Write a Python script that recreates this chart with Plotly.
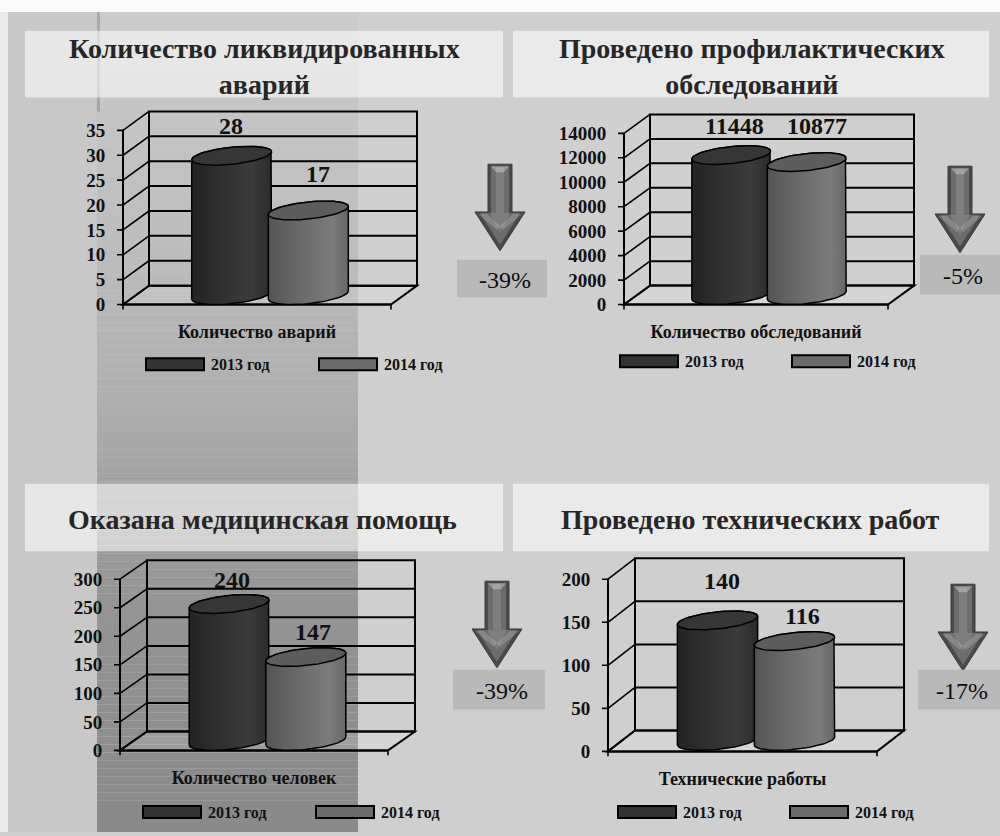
import numpy as np
import plotly.graph_objects as go

W, H = 1000, 836
FONT = "Liberation Serif, Times New Roman, serif"

# ---------------- data ----------------
TITLES = [
    "Количество ликвидированных<br>аварий",
    "Проведено профилактических<br>обследований",
    "Оказана медицинская помощь",
    "Проведено технических работ",
]
CATEGORIES = ["Количество аварий", "Количество обследований",
              "Количество человек", "Технические работы"]
SERIES = ["2013 год", "2014 год"]
VALUES_2013 = [28, 11448, 240, 140]
VALUES_2014 = [17, 10877, 147, 116]
Y_MAX = [35, 14000, 300, 200]
Y_STEP = [5, 2000, 50, 50]

# ---------------- panel geometry (pixels) ----------------
# ax / fr : front-left and front-right corners of the floor
# y0 / ytop : zero and top tick on the front value axis
# dx / dy : depth of the 3-D box
PANELS = [
    dict(ax=123, fr=391, y0=306, ytop=131, dx=26, dy=19),
    dict(ax=624, fr=888, y0=306, ytop=134, dx=26, dy=19),
    dict(ax=120, fr=388, y0=754, ytop=582, dx=27, dy=19),
    dict(ax=608, fr=877, y0=755, ytop=582, dx=27, dy=21),
]
TITLE_POS = [(264, 67), (752, 67), (262, 522), (750, 522)]
TITLE_BOXES = [(25, 31, 503, 98), (513, 31, 989, 98),
               (25, 486, 503, 554), (513, 486, 989, 554)]
ARROWS = [(500, 165), (960, 167), (497, 584), (963, 587)]
PCT_BOXES = [(457, 261, 547, 299), (920, 256, 1000, 296),
             (453, 673, 545, 713), (918, 673, 1000, 713)]
LEGENDS = [(146, 319, 366), (620, 792, 363), (143, 316, 816), (618, 790, 816)]
LABEL_LIFT = [(30, 36), (29, 36), (24, 25), (39, 25)]
LABEL_NUDGE = [(-1, 10), (3, 10), (3, 7), (4, 8)]

BAR_OFFSET = 0.143      # half distance between the two cylinders (front-width units)
BAR_WIDTH = 0.30
ELL_B = 8.5             # ellipse half-height, px
ELL_TILT = np.radians(6)

BODY_SCALES = [
    [[0, "#232323"], [0.35, "#2f2f2f"], [0.75, "#3b3b3b"], [1, "#2a2a2a"]],
    [[0, "#545454"], [0.4, "#6a6a6a"], [0.8, "#7b7b7b"], [1, "#676767"]],
]
TOP_COLORS = ["#363636", "#5d5d5d"]
LEGEND_COLORS = ["#333333", "#6b6b6b"]

PAD_L, PAD_R, PAD_T, PAD_B = 7, 3, 3, 7

shapes = []
annotations = []


def px(x):
    return x / W


def py(y):
    return 1 - y / H


def prect(x0, y0, x1, y1, fill, line="rgba(0,0,0,0)", lw=0):
    shapes.append(dict(type="rect", xref="paper", yref="paper",
                       x0=px(x0), x1=px(x1), y0=py(y1), y1=py(y0),
                       fillcolor=fill, line=dict(color=line, width=lw),
                       layer="below"))


def ppath(pts, fill, line="rgba(0,0,0,0)", lw=0):
    d = "M" + " L".join(f"{px(x):.5f},{py(y):.5f}" for x, y in pts) + " Z"
    shapes.append(dict(type="path", xref="paper", yref="paper", path=d,
                       fillcolor=fill, line=dict(color=line, width=lw),
                       layer="below"))


# ---------------- slide background ----------------
prect(0, 0, W, 12, "#fbfbfb")
prect(0, 12, 8, H, "#ebebeb")
prect(8, 12, 97, H, "#c8c8c8")
band_y = [12, 100, 250, 400, 480, 600, 836]
band_g = [204, 197, 189, 175, 163, 149, 137]
for y in range(12, H, 8):
    g = int(round(np.interp(y + 4, band_y, band_g)))
    prect(97, y, 358, min(y + 8, H), f"rgb({g},{g},{g})")
prect(97, 12, 100, 112, "rgba(0,0,0,0.16)")

for (x0, y0, x1, y1) in TITLE_BOXES:
    prect(x0, y0, x1, y1, "rgba(255,255,255,0.56)")


# ---------------- arrows and percentage boxes ----------------
def arrow_pts(cx, top, sw, hw, sl, hl):
    return [(cx - sw / 2, top), (cx + sw / 2, top), (cx + sw / 2, top + sl),
            (cx + hw / 2, top + sl), (cx, top + sl + hl),
            (cx - hw / 2, top + sl), (cx - sw / 2, top + sl)]


for (cx, top) in ARROWS:
    ppath(arrow_pts(cx, top, 24, 50, 48, 39), "#4a4a4a", "#3a3a3a", 1)
    ppath(arrow_pts(cx, top + 2, 18, 40, 47, 32), "#6c6c6c")
    ppath(arrow_pts(cx, top + 3, 8, 20, 46, 20), "#7e7e7e")
    ppath([(cx - 9, top + 2), (cx + 9, top + 2), (cx + 4, top + 8), (cx - 4, top + 8)],
          "rgba(255,255,255,0.30)")
    ppath([(cx - 22, top + 50), (cx - 13, top + 50), (cx, top + 62), (cx - 3, top + 66)],
          "rgba(255,255,255,0.18)")
    ppath([(cx + 22, top + 50), (cx + 13, top + 50), (cx, top + 62), (cx + 3, top + 66)],
          "rgba(255,255,255,0.18)")

for i, (x0, y0, x1, y1) in enumerate(PCT_BOXES):
    prect(x0, y0, x1, y1, "#b9b9b9")
    pct = int(round((VALUES_2014[i] / VALUES_2013[i] - 1) * 100))
    annotations.append(dict(xref="paper", yref="paper", x=px((x0 + x1) / 2 + 3),
                            y=py((y0 + y1) / 2 + 1), text=f"{pct}%", showarrow=False,
                            xanchor="center", yanchor="middle",
                            font=dict(family=FONT, size=24, color="#0d0d0d")))

# ---------------- titles ----------------
for i, (tx, ty) in enumerate(TITLE_POS):
    annotations.append(dict(xref="paper", yref="paper", x=px(tx), y=py(ty),
                            text=TITLES[i], showarrow=False, xanchor="center",
                            yanchor="middle", align="center",
                            font=dict(family=FONT, size=28, color="#262626",
                                      weight="bold")))

# ---------------- legends ----------------
for (lx1, lx2, ly) in LEGENDS:
    for k, lx in enumerate((lx1, lx2)):
        prect(lx, ly - 6, lx + 58, ly + 6, LEGEND_COLORS[k], "#000000", 2)
        annotations.append(dict(xref="paper", yref="paper", x=px(lx + 63), y=py(ly),
                                text=SERIES[k], showarrow=False, xanchor="left",
                                yanchor="middle",
                                font=dict(family=FONT, size=16, color="#111111",
                                          weight="bold")))

# ---------------- charts ----------------
fig = go.Figure()
layout_axes = {}

for i, p in enumerate(PANELS):
    sfx = "" if i == 0 else str(i + 1)
    xr, yr = "x" + sfx, "y" + sfx
    ymax, step = Y_MAX[i], Y_STEP[i]
    ppx = p["fr"] - p["ax"]                       # px per x unit
    ppy = (p["y0"] - p["ytop"]) / ymax            # px per y unit
    dxu, dyu = p["dx"] / ppx, p["dy"] / ppy
    ticks = list(range(0, ymax + 1, step))

    layout_axes["xaxis" + sfx] = dict(
        domain=[px(p["ax"] - PAD_L), px(p["fr"] + p["dx"] + PAD_R)],
        range=[-0.5 - PAD_L / ppx, 0.5 + (p["dx"] + PAD_R) / ppx],
        anchor=yr, showgrid=False, zeroline=False, showline=False,
        tickvals=[0], ticktext=[CATEGORIES[i]], ticks="outside", ticklen=4,
        tickcolor="rgba(0,0,0,0)",
        tickfont=dict(family=FONT, size=18, color="#111111", weight="bold"),
        fixedrange=True)
    layout_axes["yaxis" + sfx] = dict(
        domain=[py(p["y0"] + PAD_B), py(p["ytop"] - p["dy"] - PAD_T)],
        range=[-PAD_B / ppy, ymax + (p["dy"] + PAD_T) / ppy],
        anchor=xr, showgrid=False, zeroline=False, showline=False,
        tickvals=ticks, ticktext=[str(t) for t in ticks], ticks="outside",
        ticklen=6, tickcolor="rgba(0,0,0,0)",
        tickfont=dict(family=FONT, size=19, color="#111111", weight="bold"),
        fixedrange=True)

    def dline(x0, y0, x1, y1, w=2):
        shapes.append(dict(type="line", xref=xr, yref=yr, x0=x0, y0=y0, x1=x1, y1=y1,
                           line=dict(color="#000000", width=w), layer="below"))

    # floor
    shapes.append(dict(type="path", xref=xr, yref=yr, layer="below",
                       path=f"M-0.5,0 L{-0.5 + dxu},{dyu} L{0.5 + dxu},{dyu} L0.5,0 Z",
                       fillcolor="rgba(255,255,255,0.14)",
                       line=dict(color="#000000", width=2)))
    # back wall
    shapes.append(dict(type="rect", xref=xr, yref=yr, layer="below",
                       x0=-0.5 + dxu, x1=0.5 + dxu, y0=dyu, y1=ymax + dyu,
                       fillcolor="rgba(0,0,0,0)", line=dict(color="#000000", width=2)))
    for t in ticks:
        if 0 < t < ymax:
            dline(-0.5 + dxu, t + dyu, 0.5 + dxu, t + dyu, 2)
        dline(-0.5, t, -0.5 + dxu, t + dyu, 1.6)
        dline(-0.5 - 6 / ppx, t, -0.5, t, 1.6)
    # front axes
    dline(-0.5, 0, -0.5, ymax, 2)
    dline(-0.5, 0, 0.5, 0, 2)
    dline(-0.5, 0, -0.5, -5 / ppy, 1.6)
    dline(0.5, 0, 0.5, -5 / ppy, 1.6)

    # cylinders
    vals = [VALUES_2013[i], VALUES_2014[i]]
    mx, my = dxu / 2, dyu / 2
    a_px = BAR_WIDTH * ppx / 2
    for k, v in enumerate(vals):
        xc = (-BAR_OFFSET if k == 0 else BAR_OFFSET) + mx

        def ell(yc, th):
            ex = a_px * np.cos(th) * np.cos(ELL_TILT) - ELL_B * np.sin(th) * np.sin(ELL_TILT)
            ey = a_px * np.cos(th) * np.sin(ELL_TILT) + ELL_B * np.sin(th) * np.cos(ELL_TILT)
            return xc + ex / ppx, yc + ey / ppy

        lo = np.linspace(np.pi, 2 * np.pi, 40)
        hi = np.linspace(0, np.pi, 40)
        bx, by = ell(my, lo)
        tx, ty = ell(v + my, hi)
        fig.add_trace(go.Scatter(
            x=np.concatenate([bx, tx, bx[:1]]), y=np.concatenate([by, ty, by[:1]]),
            mode="lines", fill="toself",
            fillgradient=dict(type="horizontal", colorscale=BODY_SCALES[k]),
            line=dict(color="#000000", width=1.5), xaxis=xr, yaxis=yr,
            hoverinfo="skip", showlegend=False, name=SERIES[k]))
        full = np.linspace(0, 2 * np.pi, 80)
        ex_, ey_ = ell(v + my, full)
        fig.add_trace(go.Scatter(
            x=ex_, y=ey_, mode="lines", fill="toself", fillcolor=TOP_COLORS[k],
            line=dict(color="#000000", width=1.5), xaxis=xr, yaxis=yr,
            hoverinfo="skip", showlegend=False, name=SERIES[k]))
        annotations.append(dict(
            xref=xr, yref=yr, x=xc + LABEL_NUDGE[i][k] / ppx, y=v + my,
            yshift=LABEL_LIFT[i][k], text=str(v), showarrow=False,
            xanchor="center", yanchor="middle",
            font=dict(family=FONT, size=24, color="#111111", weight="bold")))

fig.update_layout(
    width=W, height=H, margin=dict(l=0, r=0, t=0, b=0),
    paper_bgcolor="#cfcfcf", plot_bgcolor="rgba(0,0,0,0)",
    showlegend=False, shapes=shapes, annotations=annotations,
    **layout_axes)

fig.write_html("out.html")
